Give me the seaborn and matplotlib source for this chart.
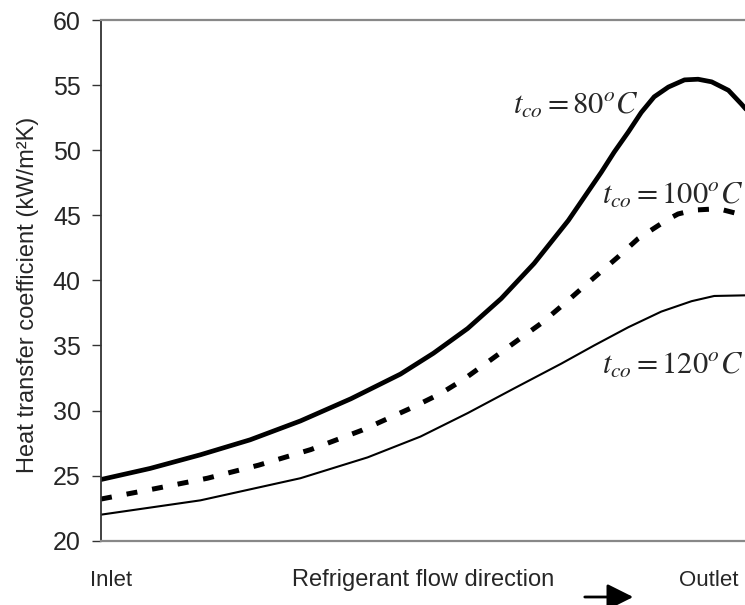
import matplotlib
matplotlib.use("Agg")
import matplotlib.pyplot as plt
import seaborn as sns
import pandas as pd

# Position along the tube (0 = inlet, 1 = outlet) and heat transfer coefficient (kW/m2K)
x_80 = [0.0, 0.076, 0.154, 0.231, 0.309, 0.387, 0.464, 0.515, 0.568, 0.620,
        0.671, 0.724, 0.775, 0.795, 0.817, 0.837, 0.857, 0.879, 0.904, 0.925,
        0.946, 0.972, 0.992, 1.0]
h_80 = [24.7, 25.55, 26.6, 27.75, 29.2, 30.9, 32.8, 34.4, 36.3, 38.6,
        41.3, 44.6, 48.3, 49.85, 51.4, 52.9, 54.1, 54.85, 55.4, 55.45,
        55.25, 54.6, 53.55, 53.1]

x_100 = [0.0, 0.084, 0.165, 0.244, 0.325, 0.405, 0.483, 0.526, 0.562, 0.604,
         0.640, 0.682, 0.720, 0.759, 0.801, 0.832, 0.863, 0.879, 0.894, 0.919,
         0.957, 0.988, 1.0]
h_100 = [23.2, 24.0, 24.8, 25.8, 27.0, 28.5, 30.25, 31.3, 32.4, 33.9,
         35.2, 36.7, 38.3, 40.0, 41.8, 43.2, 44.2, 44.7, 45.1, 45.4,
         45.5, 45.1, 45.0]

x_120 = [0.0, 0.154, 0.309, 0.413, 0.495, 0.568, 0.640, 0.713, 0.764, 0.817,
         0.868, 0.915, 0.950, 1.0]
h_120 = [22.0, 23.1, 24.8, 26.4, 28.0, 29.8, 31.7, 33.6, 35.0, 36.4,
         37.6, 38.4, 38.8, 38.85]

labels = [r"$t_{co}=80^{o}C$", r"$t_{co}=100^{o}C$", r"$t_{co}=120^{o}C$"]
yticks = [20, 25, 30, 35, 40, 45, 50, 55, 60]

sns.set_style("white")
plt.rcParams["font.family"] = ["Liberation Sans", "DejaVu Sans"]
plt.rcParams["mathtext.fontset"] = "stix"

fig = plt.figure(figsize=(7.45, 6.05), dpi=100)
ax = fig.add_axes([101 / 745, 1 - 540.7 / 605, 1 - 101 / 745 + 0.002, (540.7 - 20) / 605])

df80 = pd.DataFrame({"x": x_80, "h": h_80})
df100 = pd.DataFrame({"x": x_100, "h": h_100})
df120 = pd.DataFrame({"x": x_120, "h": h_120})

sns.lineplot(data=df80, x="x", y="h", ax=ax, color="black", linewidth=3.4, sort=False)
sns.lineplot(data=df100, x="x", y="h", ax=ax, color="black", linewidth=3.6, sort=False)
ax.lines[-1].set_dashes((2.2, 3.0))
ax.lines[-1].set_dash_capstyle("butt")
sns.lineplot(data=df120, x="x", y="h", ax=ax, color="black", linewidth=1.5, sort=False)
for ln in ax.lines:
    ln.set_solid_joinstyle("round")
    ln.set_dash_joinstyle("round")

ax.set_xlim(0, 1)
ax.set_ylim(20, 60)
ax.set_yticks(yticks)
ax.set_xticks([])
ax.set_xlabel("")
ax.set_ylabel("")
ax.tick_params(axis="y", direction="out", length=6.5, width=1.0, color="#333333",
               pad=8, labelsize=18, left=True)

for s in ["top", "bottom"]:
    ax.spines[s].set_color("#888888")
    ax.spines[s].set_linewidth(1.6)
ax.spines["left"].set_color("#333333")
ax.spines["left"].set_linewidth(1.3)
ax.spines["right"].set_visible(False)

ax.text(0.736, 53.4, labels[0], fontsize=22, ha="center", va="center")
ax.text(0.885, 46.5, labels[1], fontsize=22, ha="center", va="center")
ax.text(0.885, 33.4, labels[2], fontsize=22, ha="center", va="center")

fig.text(0.038, 1 - 295 / 605, "Heat transfer coefficient (kW/m²K)", rotation=90,
         ha="center", va="center", fontsize=17)

fig.text(111 / 745, 1 - 580 / 605, "Inlet", ha="center", va="center", fontsize=16)
fig.text(423 / 745, 1 - 580 / 605, "Refrigerant flow direction", ha="center", va="center", fontsize=17)
fig.text(709 / 745, 1 - 580 / 605, "Outlet", ha="center", va="center", fontsize=16)
fig.patches.append(matplotlib.patches.FancyArrowPatch(
    (582 / 745, 1 - 597 / 605), (636 / 745, 1 - 597 / 605),
    transform=fig.transFigure, arrowstyle="-|>,head_length=1.0,head_width=0.5",
    mutation_scale=16, color="black", linewidth=2.0))

fig.savefig("out.png", dpi=100)
